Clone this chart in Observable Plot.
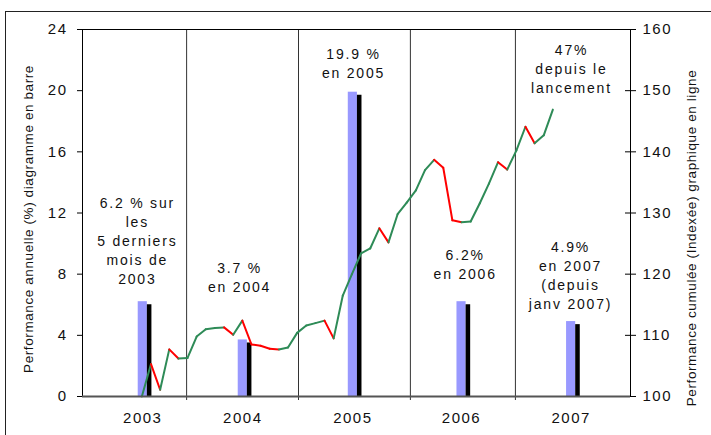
<!DOCTYPE html>
<html><head><meta charset="utf-8">
<script src="https://cdn.jsdelivr.net/npm/d3@7"></script>
<script src="https://cdn.jsdelivr.net/npm/@observablehq/plot@0.6"></script>
<style>
body{margin:0;background:#fff;}
#chart{position:relative;width:711px;height:435px;overflow:hidden;background:#fff}
</style>
</head><body><div id="chart"></div>
<script>
// ---- data ----
const years = ["2003", "2004", "2005", "2006", "2007"];
const barMonth = [6.6, 17.55, 29.6, 41.5, 53.5];          // month index (from Jan 2003) of each year's bar pair
const annualFund = [6.2, 3.7, 19.9, 6.2, 4.9];            // annual performance (%), blue bars
const annualBench = [6.0, 3.5, 19.7, 6.0, 4.7];           // annual performance (%), black bars
const yearBounds = [11.4, 23.65, 35.9, 47.4];             // month index of year separators
const months = [
  "2003-07","2003-08","2003-09","2003-10","2003-11","2003-12",
  "2004-01","2004-02","2004-03","2004-04","2004-05","2004-06","2004-07","2004-08","2004-09","2004-10","2004-11","2004-12",
  "2005-01","2005-02","2005-03","2005-04","2005-05","2005-06","2005-07","2005-08","2005-09","2005-10","2005-11","2005-12",
  "2006-01","2006-02","2006-03","2006-04","2006-05","2006-06","2006-07","2006-08","2006-09","2006-10","2006-11","2006-12",
  "2007-01","2007-02","2007-03","2007-04"
];
const cumulative = [
  100.0, 105.3, 101.1, 107.7, 106.2, 106.3,
  109.8, 111.0, 111.2, 111.3, 110.1, 112.4, 108.5, 108.3, 107.8, 107.7, 108.0, 110.4,
  111.6, 112.0, 112.4, 109.5, 116.5, 120.0, 123.4, 124.2, 127.5, 125.2, 129.8, 131.7,
  133.7, 137.0, 138.7, 137.4, 128.8, 128.5, 128.6, 131.6, 134.8, 138.3, 137.1, 140.2,
  144.1, 141.4, 142.7, 146.9
];
const leftTicks = [0, 4, 8, 12, 16, 20, 24];
const rightTicks = [100, 110, 120, 130, 140, 150, 160];
const annotations = [
  "6.2 % sur\nles\n5 derniers\nmois de\n2003",
  "3.7 %\nen 2004",
  "19.9 %\nen 2005",
  "6.2%\nen 2006",
  "4.9%\nen 2007\n(depuis\njanv 2007)",
  "47%\ndepuis le\nlancement"
];
const annMonth = [6.0, 17.2, 29.67, 41.9, 53.43, 53.54];
const annValue = [10.25, 7.88, 21.84, 8.7, 8.01, 21.48];
const leftTitle = "Performance annuelle (%) diagramme en barre";
const rightTitle = "Performance cumulée (Indexée) graphique en ligne";

// ---- helpers ----
const toBar = v => (v - 100) * 24 / 60;   // right axis (100–160) onto left axis (0–24)
const monthIndex = s => { const [y, m] = s.split("-").map(Number); return (y - 2003) * 12 + (m - 1) + 0.5; };
const segs = [];
for (let i = 1; i < months.length; i++) {
  segs.push({
    x1: monthIndex(months[i - 1]), y1: toBar(cumulative[i - 1]),
    x2: monthIndex(months[i]), y2: toBar(cumulative[i]),
    color: cumulative[i] < cumulative[i - 1] ? "#ff0000" : "#2e8b57"
  });
}

const FONT = "'Liberation Sans', Arial, Helvetica, sans-serif";
const plot = Plot.plot({
  width: 711, height: 435,
  marginTop: 29, marginBottom: 39, marginLeft: 82, marginRight: 81,
  x: {domain: [0, 60], axis: null},
  y: {domain: [0, 24], axis: null},
  color: {type: "identity"},
  style: {fontFamily: FONT, fontSize: "15px", background: "#fff", color: "#111"},
  marks: [
    Plot.rectY(years, {x1: (d, i) => barMonth[i] - 0.5, x2: (d, i) => barMonth[i] + 0.5, y1: 0, y2: (d, i) => annualFund[i], fill: "#9999ff"}),
    Plot.rectY(years, {x1: (d, i) => barMonth[i] + 0.5, x2: (d, i) => barMonth[i] + 1.0, y1: 0, y2: (d, i) => annualBench[i], fill: "#000000"}),
    Plot.ruleX(yearBounds, {x: d => d, insetBottom: -4, stroke: "#333", strokeWidth: 1}),
    Plot.ruleY([24], {stroke: "#000"}),
    Plot.ruleX([0, 60], {stroke: "#000"}),
    Plot.ruleY(leftTicks, {y: d => d, x1: 0, x2: 0, insetLeft: -5, stroke: "#000"}),
    Plot.ruleY(rightTicks, {y: d => toBar(d), x1: 60, x2: 60, insetLeft: -5, insetRight: -6, stroke: "#000"}),
    Plot.link(segs, {x1: "x1", y1: "y1", x2: "x2", y2: "y2", stroke: "color", strokeWidth: 2, strokeLinecap: "round"}),
    Plot.ruleY([0], {stroke: "#555", strokeWidth: 2}),
    Plot.text(leftTicks, {x: 0, y: d => d, text: d => String(d), textAnchor: "end", dx: -15, fontSize: 15, fill: "#111"}),
    Plot.text(rightTicks, {x: 60, y: d => toBar(d), text: d => String(d), textAnchor: "start", dx: 12, fontSize: 15, fill: "#111"}),
    Plot.text(years, {x: (d, i) => barMonth[i], y: 0, dy: 22, text: d => d, fontSize: 15, fill: "#111"}),
    Plot.text(annotations, {x: (d, i) => annMonth[i], y: (d, i) => annValue[i], text: d => d, fontSize: 14, lineHeight: 1.36, fill: "#111"}),
    Plot.text([leftTitle], {frameAnchor: "left", textAnchor: "middle", dx: -54, dy: 6, rotate: -90, fontSize: 13.5, fill: "#111"}),
    Plot.text([rightTitle], {frameAnchor: "right", textAnchor: "middle", dx: 61, dy: 25, rotate: -90, fontSize: 13.5, fill: "#111"})
  ]
});

const svg = d3.select(plot);
const annFlat = new Set(annotations.map(a => a.replace(/\n/g, "")));
svg.selectAll("text").each(function () {
  const t = this.textContent;
  let ls = "1.5px";
  if (t === leftTitle || t === rightTitle) ls = "0.6px";
  else if (annFlat.has(t)) ls = "1.8px";
  d3.select(this).style("letter-spacing", ls);
});
// outer chart-area border (partially cropped in the original)
svg.append("rect").attr("x", 5.5).attr("y", 11.5).attr("width", 800).attr("height", 600)
  .attr("fill", "none").attr("stroke", "#222").attr("stroke-width", 1);

document.getElementById("chart").appendChild(plot);
</script>
</body></html>
